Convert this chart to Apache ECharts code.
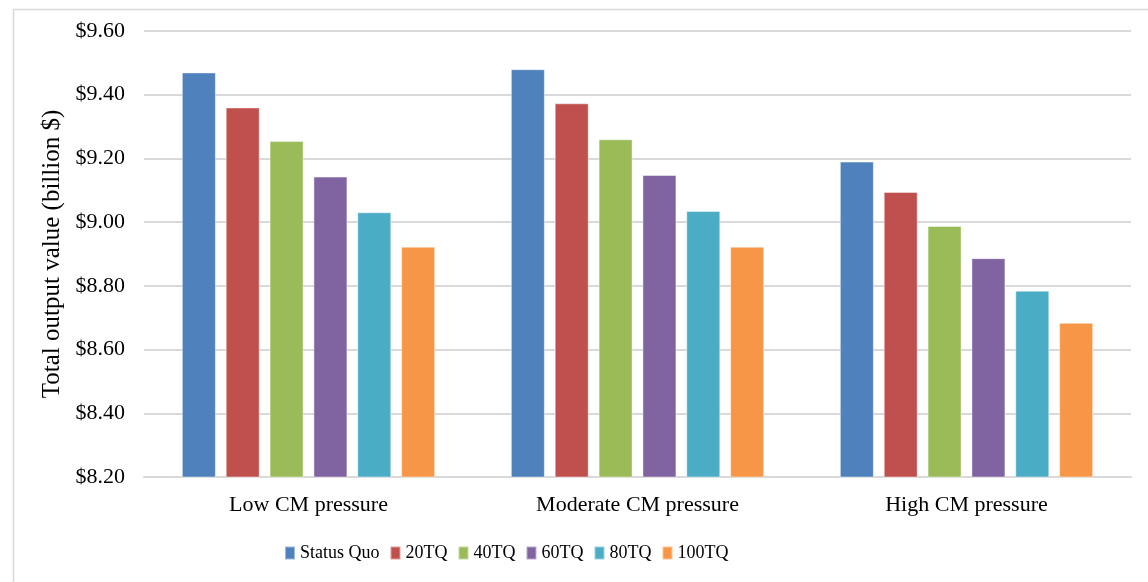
<!DOCTYPE html>
<html>
<head>
<meta charset="utf-8">
<script src="https://cdn.jsdelivr.net/npm/echarts@6/dist/echarts.min.js"></script>
<style>
html,body{margin:0;padding:0;background:#fff;}
#chart{width:1148px;height:582px;}
</style>
</head>
<body>
<div id="chart"></div>
<script>
const categories = ['Low CM pressure', 'Moderate CM pressure', 'High CM pressure'];
const seriesNames = ['Status Quo', '20TQ', '40TQ', '60TQ', '80TQ', '100TQ'];
const statusQuo = [9.47, 9.48, 9.19];
const tq20 = [9.36, 9.373, 9.095];
const tq40 = [9.255, 9.26, 8.988];
const tq60 = [9.143, 9.148, 8.887];
const tq80 = [9.031, 9.035, 8.785];
const tq100 = [8.923, 8.923, 8.684];
const yTicks = { min: 8.2, max: 9.6, interval: 0.2 };
const colors = ['#4F81BD', '#C0504D', '#9BBB59', '#8064A2', '#4BACC6', '#F79646'];

const seriesData = [statusQuo, tq20, tq40, tq60, tq80, tq100];
const font = '"Liberation Serif", "Times New Roman", serif';

const chart = echarts.init(document.getElementById('chart'), null, { renderer: 'canvas' });
chart.setOption({
  animation: false,
  backgroundColor: '#fff',
  color: colors,
  textStyle: { fontFamily: font, color: '#000' },
  graphic: [{
    type: 'rect', left: 11, top: 7, silent: true,
    shape: { width: 1300, height: 700 },
    style: { fill: 'none', stroke: '#d9d9d9', lineWidth: 1.5 }
  }],
  grid: { left: 144, right: 17, top: 31, bottom: 105, containLabel: false },
  legend: {
    data: seriesNames,
    left: 284, top: 544, padding: 0,
    itemWidth: 10, itemHeight: 13, itemGap: 10,
    icon: 'rect',
    textStyle: { fontFamily: font, fontSize: 18, color: '#000' }
  },
  xAxis: {
    type: 'category',
    data: categories,
    axisLine: { lineStyle: { color: '#d9d9d9', width: 2 } },
    axisTick: { show: false },
    axisLabel: { fontFamily: font, fontSize: 22, color: '#000', margin: 17 }
  },
  yAxis: {
    type: 'value',
    min: yTicks.min, max: yTicks.max, interval: yTicks.interval,
    name: 'Total output value (billion $)',
    nameLocation: 'middle', nameGap: 79,
    nameTextStyle: { fontFamily: font, fontSize: 25, color: '#000' },
    axisLine: { show: false },
    axisTick: { show: false },
    splitLine: { lineStyle: { color: '#d9d9d9', width: 2 } },
    axisLabel: {
      fontFamily: font, fontSize: 22, color: '#000', margin: 19,
      formatter: v => '$' + v.toFixed(2)
    }
  },
  series: seriesNames.map((n, i) => ({
    name: n,
    type: 'bar',
    data: seriesData[i],
    barWidth: 34,
    barGap: '29%',
    itemStyle: { color: colors[i], borderColor: 'rgba(255,255,255,0.45)', borderWidth: 1 }
  }))
});
</script>
</body>
</html>
